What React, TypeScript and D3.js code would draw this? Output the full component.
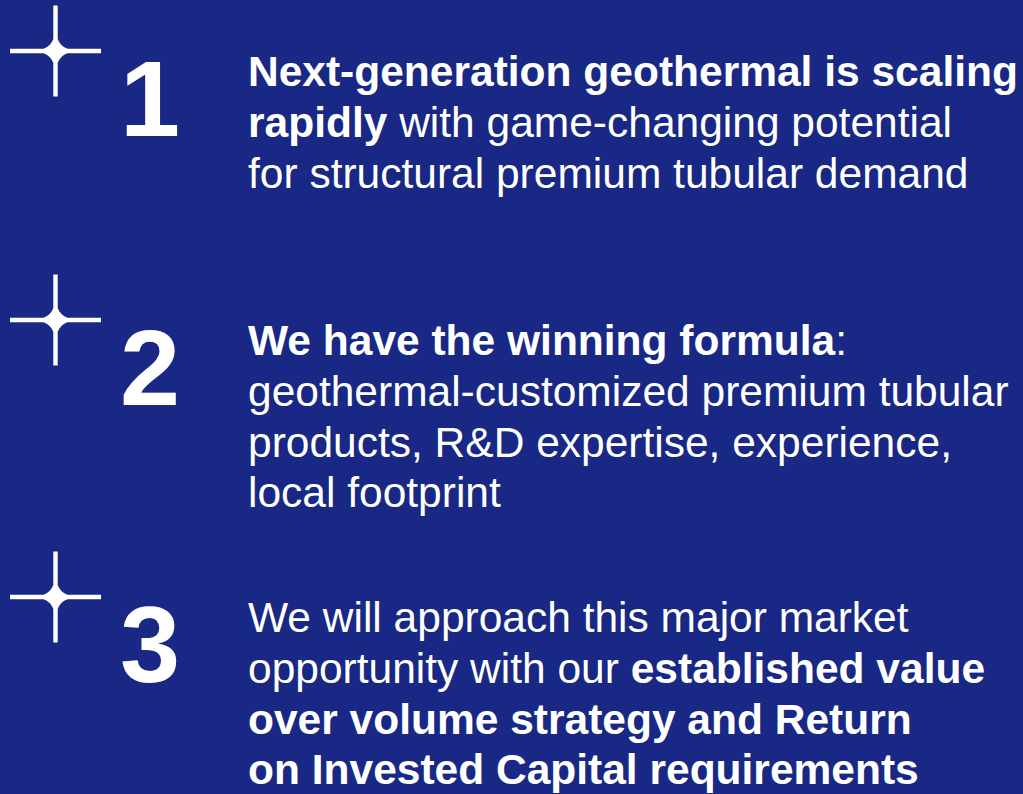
import React from "react";
import * as d3 from "d3";

// each line: list of [text, bold]
type Seg = [string, boolean];

const sectionNumbers = ["1", "2", "3"];

const section1Lines: Seg[][] = [
  [["Next-generation geothermal is scaling", true]],
  [["rapidly", true], [" with game-changing potential", false]],
  [["for structural premium tubular demand", false]],
];

const section2Lines: Seg[][] = [
  [["We have the winning formula", true], [":", false]],
  [["geothermal-customized premium tubular", false]],
  [["products, R&D expertise, experience,", false]],
  [["local footprint", false]],
];

const section3Lines: Seg[][] = [
  [["We will approach this major market", false]],
  [["opportunity with our ", false], ["established value", true]],
  [["over volume strategy and Return", true]],
  [["on Invested Capital requirements", true]],
];

const sections = [section1Lines, section2Lines, section3Lines];

const W = 1023;
const H = 794;
const BG = "#182884";
const FONT = "'Liberation Sans', Arial, Helvetica, sans-serif";

// baseline of first text line in each section
const firstBaselines = [86, 355, 632];
const lineStep = 50.8;

function starPath(cx: number, cy: number) {
  const L = 45.5;
  const w = 2.2;
  const r = 12;
  const c = 4.8;
  const p = d3.path();
  p.moveTo(cx - w, cy - L);
  p.lineTo(cx + w, cy - L);
  p.lineTo(cx + w, cy - r);
  p.quadraticCurveTo(cx + c, cy - c, cx + r, cy - w);
  p.lineTo(cx + L, cy - w);
  p.lineTo(cx + L, cy + w);
  p.lineTo(cx + r, cy + w);
  p.quadraticCurveTo(cx + c, cy + c, cx + w, cy + r);
  p.lineTo(cx + w, cy + L);
  p.lineTo(cx - w, cy + L);
  p.lineTo(cx - w, cy + r);
  p.quadraticCurveTo(cx - c, cy + c, cx - r, cy + w);
  p.lineTo(cx - L, cy + w);
  p.lineTo(cx - L, cy - w);
  p.lineTo(cx - r, cy - w);
  p.quadraticCurveTo(cx - c, cy - c, cx - w, cy - r);
  p.closePath();
  return p.toString();
}

const App: React.FC = () => {
  return (
    <svg
      width={W}
      height={H}
      style={{ position: "fixed", left: 0, top: 0, display: "block" }}
    >
      <rect width={W} height={H} fill={BG} />
      {sections.map((lines, i) => {
        const y0 = firstBaselines[i];
        return (
          <g key={i}>
            <path d={starPath(55.5, y0 - 35)} fill="#ffffff" />
            <text
              x={150}
              y={y0 + 50}
              textAnchor="middle"
              fill="#ffffff"
              fontFamily={FONT}
              fontWeight="bold"
              fontSize={108}
            >
              {sectionNumbers[i]}
            </text>
            {lines.map((segs, j) => (
              <text
                key={j}
                x={248}
                y={y0 + j * lineStep}
                fill="#ffffff"
                fontFamily={FONT}
                fontSize={42.5}
                style={{ whiteSpace: "pre" }}
              >
                {segs.map(([t, b], k) => (
                  <tspan key={k} fontWeight={b ? "bold" : "normal"}>
                    {t}
                  </tspan>
                ))}
              </text>
            ))}
          </g>
        );
      })}
    </svg>
  );
};

export default App;
